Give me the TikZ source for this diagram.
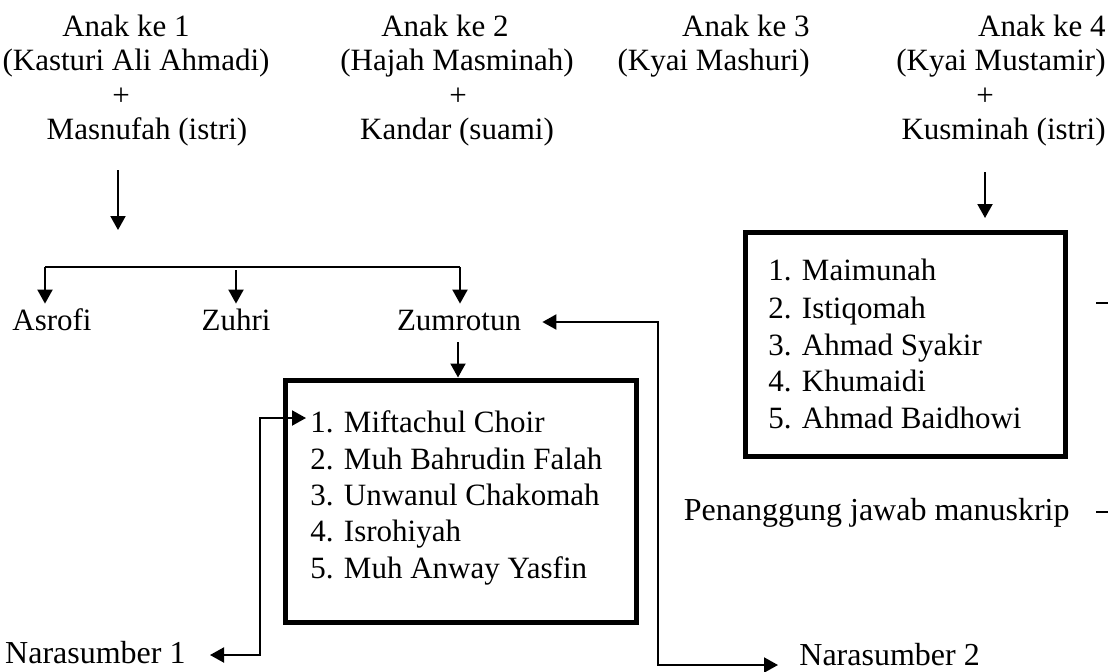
\documentclass[tikz,border=0pt]{standalone}
\usepackage{fontspec}
\setmainfont{Liberation Serif}
\usetikzlibrary{arrows.meta}

\begin{document}
\begin{tikzpicture}[x=0.5pt,y=-0.5pt,>/.tip={Triangle[length=7pt,width=7.5pt]},
	txt/.style={inner sep=2pt,text height=11pt,text depth=3pt,font=\fontsize{15.5}{18}\selectfont},
	besar/.style={txt,font=\fontsize{16}{19}\selectfont},
	item/.style={txt,anchor=west},
	kotak/.style={draw,line width=2.5pt},
	garis/.style={line width=1pt}]
	\useasboundingbox (0,0) rectangle (1108,671);
	% orang tua
	\draw (126,28) node(a1) [txt] {Anak ke 1};
	\draw (136,62) node(a1n) [txt] {(Kasturi Ali Ahmadi)};
	\draw (121,97) node(a1p) [txt] {+};
	\draw (147,131) node(a1s) [txt] {Masnufah (istri)};
	\draw (445,28) node(a2) [txt] {Anak ke 2};
	\draw (457,62) node(a2n) [txt] {(Hajah Masminah)};
	\draw (458,97) node(a2p) [txt] {+};
	\draw (457,131) node(a2s) [txt] {Kandar (suami)};
	\draw (814,28) node(a3) [txt,anchor=east] {Anak ke 3};
	\draw (814,62) node(a3n) [txt,anchor=east] {(Kyai Mashuri)};
	\draw (1110,28) node(a4) [txt,anchor=east] {Anak ke 4};
	\draw (1110,62) node(a4n) [txt,anchor=east] {(Kyai Mustamir)};
	\draw (985,97) node(a4p) [txt] {+};
	\draw (1110,131) node(a4s) [txt,anchor=east] {Kusminah (istri)};
	% anak
	\draw (52,322) node(asrofi) [txt] {Asrofi};
	\draw (236,322) node(zuhri) [txt] {Zuhri};
	\draw (459,322) node(zum) [txt] {Zumrotun};
	\draw (460.5,501) node(box1) [kotak,minimum width=175.5pt,minimum height=121pt] {};
	\draw (306,424) node(m1) [item] {1. Miftachul Choir};
	\draw (306,461) node(m2) [item] {2. Muh Bahrudin Falah};
	\draw (306,497) node(m3) [item] {3. Unwanul Chakomah};
	\draw (306,533) node(m4) [item] {4. Isrohiyah};
	\draw (306,570) node(m5) [item] {5. Muh Anway Yasfin};
	\draw (905,344) node(box2) [kotak,minimum width=160pt,minimum height=112pt] {};
	\draw (764,272) node(k1) [item] {1. Maimunah};
	\draw (764,310) node(k2) [item] {2. Istiqomah};
	\draw (764,347) node(k3) [item] {3. Ahmad Syakir};
	\draw (764,383) node(k4) [item] {4. Khumaidi};
	\draw (764,420) node(k5) [item] {5. Ahmad Baidhowi};
	\draw (1074,512) node(pj) [besar,anchor=east] {Penanggung jawab manuskrip};
	\draw (190,655) node(nara1) [besar,anchor=east] {Narasumber 1};
	\draw (795,657) node(nara2) [besar,anchor=west] {Narasumber 2};
	% titik bantu
	\coordinate (p1a) at (118,170);
	\coordinate (p1b) at (118,230);
	\coordinate (p4a) at (985,172);
	\coordinate (p4b) at (985,218);
	\coordinate (c1) at (45,267);
	\coordinate (c2) at (236,270);
	\coordinate (c3) at (460,267);
	\coordinate (z1) at (458,342);
	\coordinate (j1) at (260,655);
	\coordinate (j2) at (658,322);
	% panah
	\draw[garis,->] (p1a) -- (p1b);
	\draw[garis,->] (p4a) -- (p4b);
	\draw[line width=1.4pt] (c1) -- (c3);
	\draw[garis,->] (c1) -- (c1 |- asrofi.north);
	\draw[garis,->] (c2) -- (zuhri.north);
	\draw[garis,->] (c3) -- (c3 |- zum.north);
	\draw[garis,->] (z1) -- (z1 |- box1.north);
	\draw[garis,<->,shorten <=10pt] (nara1) -- (j1) |- ([yshift=3pt]m1.west);
	\draw[garis,<->,shorten <=8.5pt,shorten >=8.5pt] (zum) -- (j2) |- (nara2.base west);
	% garis pinggir
	\draw[garis] (1096,303) -- (1108,303);
	\draw[garis] (1096,512) -- (1108,512);
\end{tikzpicture}
\end{document}
